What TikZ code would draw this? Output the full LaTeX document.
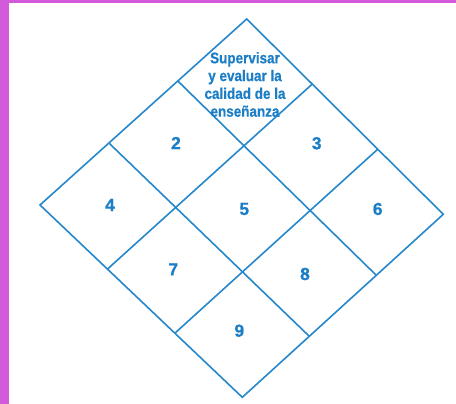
\documentclass[tikz,border=0pt]{standalone}
\usepackage{fontspec}
\setmainfont{Liberation Sans}
\newfontfamily\lblfont{Liberation Sans Bold}[FakeStretch=0.87,FakeBold=0.6]
\newfontfamily\numfont{Liberation Sans Bold}[FakeBold=0.6]
\usetikzlibrary{calc}
\definecolor{gridblue}{RGB}{38,136,204}
\definecolor{txtblue}{RGB}{28,126,198}
\definecolor{frame}{RGB}{211,90,219}
\tikzset{
  gridline/.style={draw=gridblue, line width=1.6pt, line join=miter},
  numlabel/.style={text=txtblue, inner sep=0pt, anchor=center, font=\numfont\fontsize{17.5}{17.5}\selectfont},
  toplabel/.style={text=txtblue, inner sep=0pt, align=center, anchor=base, font=\lblfont\fontsize{15.5}{17.8}\selectfont}
}
\begin{document}
\begin{tikzpicture}[x=1pt,y=-1pt]
\useasboundingbox (0,0) rectangle (456,404);
\fill[white] (0,0) rectangle (456,404);
\fill[frame] (0,0) rectangle (8.7,404);
\fill[frame] (0,0) rectangle (456,3);
% corners
\coordinate (T) at (246.7,19);
\coordinate (R) at (443.3,214.3);
\coordinate (B) at (242.3,397.3);
\coordinate (L) at (40,205);
% edge points
\coordinate (TR1) at ($(T)!1/3!(R)$);
\coordinate (TR2) at ($(T)!2/3!(R)$);
\coordinate (LB1) at ($(L)!1/3!(B)$);
\coordinate (LB2) at ($(L)!2/3!(B)$);
\coordinate (TL1) at ($(T)!1/3!(L)$);
\coordinate (TL2) at ($(T)!2/3!(L)$);
\coordinate (RB1) at ($(R)!1/3!(B)$);
\coordinate (RB2) at ($(R)!2/3!(B)$);
\draw[gridline] (T) -- (R) -- (B) -- (L) -- cycle;
\draw[gridline] (TR1) -- (LB1);
\draw[gridline] (TR2) -- (LB2);
\draw[gridline] (TL1) -- (RB1);
\draw[gridline] (TL2) -- (RB2);
% labels
\node[toplabel] (n1) at (245,116.7) {Supervisar\\y evaluar la\\calidad de la\\enseñanza};
\node[numlabel] (n2) at (176,143) {2};
\node[numlabel] (n3) at (316.7,143.3) {3};
\node[numlabel] (n4) at (110,205) {4};
\node[numlabel] (n5) at (244.3,209) {5};
\node[numlabel] (n6) at (377.7,209) {6};
\node[numlabel] (n7) at (173.3,269.3) {7};
\node[numlabel] (n8) at (305,274) {8};
\node[numlabel] (n9) at (239.3,330.7) {9};
\end{tikzpicture}
\end{document}
